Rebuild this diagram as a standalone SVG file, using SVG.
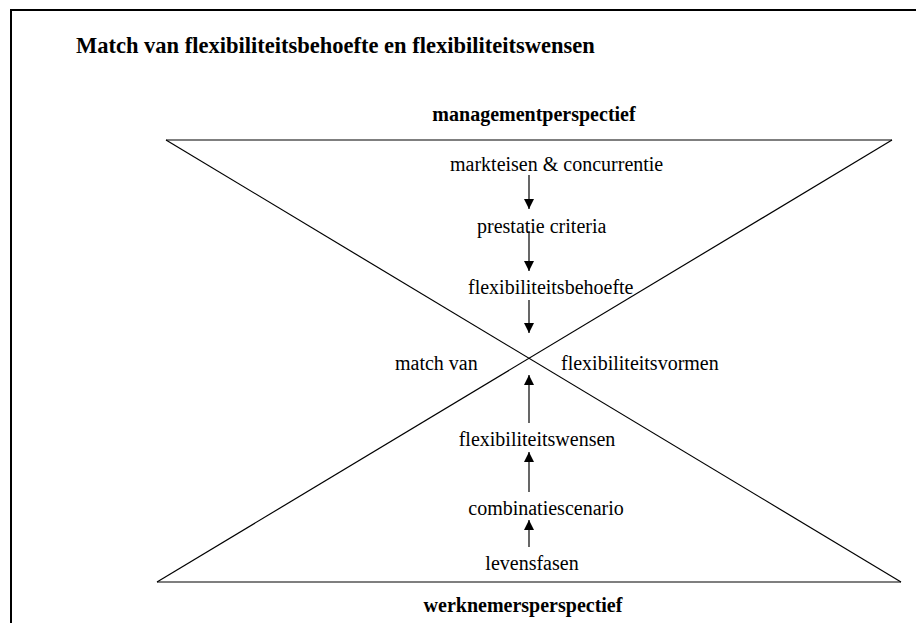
<svg xmlns="http://www.w3.org/2000/svg" width="916" height="623" viewBox="0 0 916 623">
  <style>
    text { font-family: "Liberation Serif", "Times New Roman", Times, serif; font-size: 20px; fill: #000; }
    .b { font-weight: bold; }
    .title { font-size: 22.5px; }
    .edge { stroke: #000; stroke-width: 1.2; fill: none; }
    .frame { stroke: #000; stroke-width: 2; fill: none; }
    .tri { stroke: #000; stroke-width: 1.2; fill: none; }
  </style>
  <defs>
    <marker id="head" viewBox="0 0 10 10" refX="10" refY="5" markerWidth="10" markerHeight="10" markerUnits="userSpaceOnUse" orient="auto">
      <path d="M0,0 L10,5 L0,10 Z" fill="#000"/>
    </marker>
  </defs>

  <rect width="916" height="623" fill="#fff"/>
  <!-- page frame -->
  <path class="frame" d="M11,623 V10 H916"/>

  <!-- hourglass -->
  <g id="hourglass">
    <line class="tri" x1="166" y1="140" x2="892" y2="140" stroke="#444"/>
    <line class="tri" x1="157" y1="582" x2="901" y2="582"/>
    <line class="tri" x1="166" y1="140" x2="901" y2="582"/>
    <line class="tri" x1="892" y1="140" x2="157" y2="582"/>
  </g>

  <g font-family="Liberation Serif, serif">
    <g id="title"><text class="b title" x="76" y="53">Match van flexibiliteitsbehoefte en flexibiliteitswensen</text></g>
    <g id="management"><text class="b" x="534" y="121" text-anchor="middle">managementperspectief</text></g>
    <g id="werknemer"><text class="b" x="523" y="612" text-anchor="middle">werknemersperspectief</text></g>

    <g id="markteisen"><text x="450" y="171">markteisen &amp; concurrentie</text></g>
    <g id="prestatie"><text x="477" y="233">prestatie criteria</text></g>
    <g id="behoefte"><text x="468" y="294">flexibiliteitsbehoefte</text></g>
    <g id="match"><text x="395" y="370">match van</text></g>
    <g id="vormen"><text x="561" y="370">flexibiliteitsvormen</text></g>
    <g id="wensen"><text x="537" y="446" text-anchor="middle">flexibiliteitswensen</text></g>
    <g id="scenario"><text x="546" y="515" text-anchor="middle">combinatiescenario</text></g>
    <g id="levensfasen"><text x="532" y="570" text-anchor="middle">levensfasen</text></g>
  </g>

  <g id="connectors">
    <line class="edge" x1="529" y1="175" x2="529" y2="209" marker-end="url(#head)"/>
    <line class="edge" x1="529" y1="231" x2="529" y2="271" marker-end="url(#head)"/>
    <line class="edge" x1="529" y1="300" x2="529" y2="333" marker-end="url(#head)"/>
    <line class="edge" x1="529" y1="423" x2="529" y2="375" marker-end="url(#head)"/>
    <line class="edge" x1="529" y1="492" x2="529" y2="452" marker-end="url(#head)"/>
    <line class="edge" x1="529" y1="547" x2="529" y2="520" marker-end="url(#head)"/>
  </g>
</svg>
